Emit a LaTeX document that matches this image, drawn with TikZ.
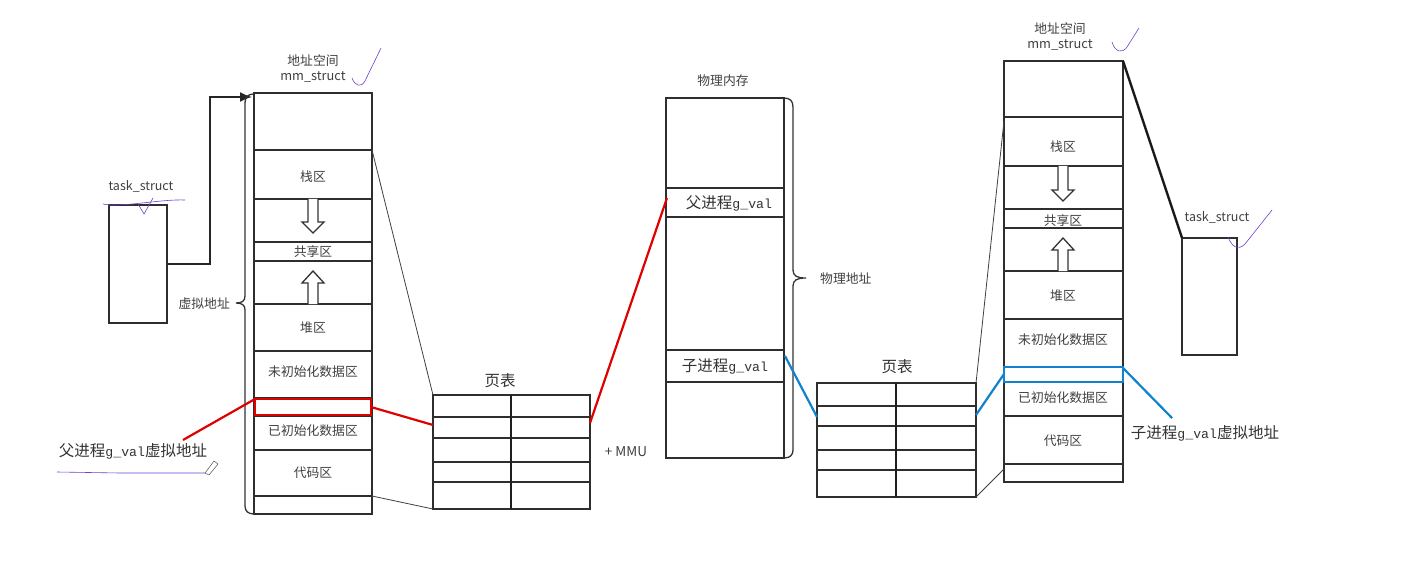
\documentclass[tikz,border=0pt]{standalone}
\usepackage{fontspec}
\newfontfamily\cjk{Noto Sans CJK SC}
\newfontfamily\mono[Scale=0.85]{Liberation Mono}
\usetikzlibrary{arrows.meta}
\begin{document}
\begin{tikzpicture}[x=1pt,y=-1pt,
  box/.style={draw=black!82, line width=1.8pt},
  rowline/.style={draw=black!82, line width=1.6pt},
  lbl/.style={font=\cjk\fontsize{12.8}{14}\selectfont, text=black!75, inner sep=0pt},
  small/.style={font=\cjk\fontsize{12.5}{14}\selectfont, text=black!75, inner sep=0pt},
  big/.style={font=\cjk\fontsize{15.5}{18}\selectfont, text=black!80, inner sep=0pt},
  thinl/.style={draw=black!75, line width=0.8pt},
  blockarrow/.style={draw=black!80, line width=1.3pt, fill=white, line join=miter},
  redl/.style={draw=red!88!black, line width=2.2pt},
  bluel/.style={draw=cyan!65!blue, line width=2.2pt},
  scrib/.style={draw=blue!50!violet!75, line width=0.6pt},
  bracel/.style={draw=black!80, line width=1.3pt},
]
\fill[white] (0,0) rectangle (1416,572);
\useasboundingbox (0,0) rectangle (1416,572);

% ---------------- left task_struct ----------------
\node[small] (ts1) at (141,186) {task\_struct};
\draw[box] (109,205) rectangle (167,323);
\coordinate (ts1out) at (167,264);
\coordinate (mm1in) at (252,97);
\draw[line width=1.8pt, draw=black!85, -{Latex[length=12pt,width=10pt]}] (ts1out) -- (210,264) -- (210,97) -- (mm1in);

% ---------------- left mm_struct ----------------
\node[lbl] (as1) at (313,61) {地址空间};
\node[lbl] (mm1) at (313,77) {mm\_struct};
\draw[box] (254,93) rectangle (372,514);
\foreach \yy in {150,199,242,261,304,351,398,416,450,496}
  \draw[rowline] (254,\yy) -- (372,\yy);
\node[lbl] (stk1) at (313,177) {栈区};
\node[lbl] (shr1) at (313,252) {共享区};
\node[lbl] (heap1) at (313,328) {堆区};
\node[lbl] (bss1) at (313,372) {未初始化数据区};
\node[lbl] (data1) at (313,431) {已初始化数据区};
\node[lbl] (code1) at (313,473) {代码区};
% block arrows
\draw[blockarrow] (308,199) -- (308,222) -- (302,222) -- (313,233) -- (324,222) -- (318,222) -- (318,199);
\draw[blockarrow] (308,304) -- (308,283) -- (302,283) -- (313,271) -- (324,283) -- (318,283) -- (318,304);
% brace
\draw[bracel] (254,94) .. controls (248,94) and (245,97) .. (245,103) -- (245,296)
  .. controls (245,301) and (242,303) .. (236,303)
  .. controls (242,303) and (245,305) .. (245,310) -- (245,506)
  .. controls (245,511) and (248,514) .. (254,514);
\node[lbl, anchor=east] (va) at (230,304) {虚拟地址};

% red highlight
\draw[redl] (255,399) rectangle (371,415);
\coordinate (rb1l) at (255,399);
\coordinate (rb1r) at (371,407);
\node[big] (pv) at (133,451) {父进程{\mono g\_val}虚拟地址};
\coordinate (pvend) at (183,440);
\draw[redl] (pvend) -- (rb1l);

% ---------------- left page table ----------------
\node[big] (pt1) at (500,381) {页表};
\draw[box] (433,395) rectangle (590,509);
\foreach \yy in {417,438,462,482}
  \draw[rowline] (433,\yy) -- (590,\yy);
\draw[line width=2.6pt, draw=black!88] (511,395) -- (511,509);
\coordinate (pt1tl) at (433,395);
\coordinate (pt1bl) at (433,509);
\coordinate (pt1row) at (433,425);
\coordinate (pt1rowr) at (590,423);
\draw[thinl] (372,150) -- (pt1tl);
\draw[thinl] (372,496) -- (pt1bl);
\draw[redl] (rb1r) -- (pt1row);
\node[small, font=\cjk\fontsize{13.5}{15}\selectfont] (mmu) at (626,452) {+ MMU};

% ---------------- physical memory ----------------
\node[lbl] (phys) at (723,81) {物理内存};
\draw[box] (666,98) rectangle (784,458);
\foreach \yy in {188,217,350,382}
  \draw[rowline] (666,\yy) -- (784,\yy);
\node[big] (pg) at (729,203) {父进程{\mono g\_val}};
\node[big] (cg) at (725,366) {子进程{\mono g\_val}};
\coordinate (pgl) at (667,198);
\coordinate (cgr) at (785,356);
\draw[redl] (pt1rowr) -- (pgl);
\draw[bracel] (784,98) .. controls (790,98) and (793,101) .. (793,107) -- (793,270)
  .. controls (793,276) and (797,278) .. (806,278)
  .. controls (797,278) and (793,280) .. (793,286) -- (793,450)
  .. controls (793,455) and (790,458) .. (784,458);
\node[lbl, anchor=west] (pa) at (820,279) {物理地址};

% ---------------- right page table ----------------
\node[big] (pt2) at (897,367) {页表};
\draw[box] (817,383) rectangle (976,497);
\foreach \yy in {406,426,450,470}
  \draw[rowline] (817,\yy) -- (976,\yy);
\draw[line width=2.6pt, draw=black!88] (896,383) -- (896,497);
\coordinate (pt2l) at (817,417);
\coordinate (pt2r) at (976,415);
\coordinate (pt2tr) at (976,383);
\coordinate (pt2br) at (976,497);
\draw[bluel] (cgr) -- (pt2l);

% ---------------- right mm_struct ----------------
\node[lbl] (as2) at (1060,29) {地址空间};
\node[lbl] (mm2) at (1060,45) {mm\_struct};
\draw[box] (1004,61) rectangle (1123,482);
\foreach \yy in {117,166,209,228,271,319,367,382,416,464}
  \draw[rowline] (1004,\yy) -- (1123,\yy);
\node[lbl] (stk2) at (1063,147) {栈区};
\node[lbl] (shr2) at (1063,221) {共享区};
\node[lbl] (heap2) at (1063,296) {堆区};
\node[lbl] (bss2) at (1063,340) {未初始化数据区};
\node[lbl] (data2) at (1063,398) {已初始化数据区};
\node[lbl] (code2) at (1063,441) {代码区};
\draw[blockarrow] (1058,166) -- (1058,190) -- (1052,190) -- (1063,201) -- (1074,190) -- (1068,190) -- (1068,166);
\draw[blockarrow] (1058,271) -- (1058,250) -- (1052,250) -- (1063,238) -- (1074,250) -- (1068,250) -- (1068,271);
\draw[thinl] (1004,121) -- (pt2tr);
\draw[thinl] (1004,469) -- (pt2br);
\draw[bluel] (1004,367) rectangle (1123,382);
\coordinate (bb2l) at (1004,374);
\coordinate (bb2r) at (1123,368);
\draw[bluel] (pt2r) -- (bb2l);
\node[big] (cv) at (1205,433) {子进程{\mono g\_val}虚拟地址};
\coordinate (cvend) at (1172,418);
\draw[bluel] (bb2r) -- (cvend);

% ---------------- right task_struct ----------------
\node[small] (ts2) at (1217,217) {task\_struct};
\draw[box] (1182,238) rectangle (1237,355);
\coordinate (ts2tl) at (1182,238);
\coordinate (mm2tr) at (1123,61);
\draw[line width=2.4pt, draw=black!90] (mm2tr) -- (ts2tl);

% ---------------- hand scribbles ----------------
\draw[scrib] (352,78) .. controls (355,86) and (361,88) .. (365,81) -- (381,48);
\draw[scrib] (103,204) .. controls (120,208) and (160,199) .. (185,200);
\draw[scrib] (138,204) -- (144,214) -- (153,198);
\draw[scrib] (1112,42) .. controls (1115,52) and (1122,54) .. (1127,47) -- (1139,28);
\draw[scrib] (1228,237) .. controls (1232,247) and (1238,251) .. (1245,244) -- (1272,210);
\draw[scrib] (57,472) -- (120,473) -- (205,473);
\draw[draw=black!60, line width=0.6pt] (205,473) -- (214,461) -- (218,464) -- (209,475) -- cycle;
\end{tikzpicture}
\end{document}
